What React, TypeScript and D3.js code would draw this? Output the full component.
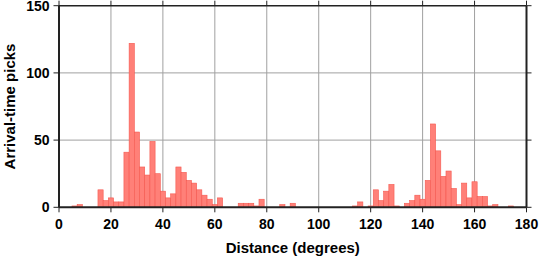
import React from "react";
import * as d3 from "d3";

// Histogram bins: lower edge (degrees), width 2 degrees
const binLower = [5, 7, 15, 17, 19, 21, 23, 25, 27, 29, 31, 33, 35, 37, 39, 41, 43, 45, 47, 49, 51, 53, 55, 57, 59, 61,
  69, 71, 73, 75, 77, 85, 89, 113, 115, 119, 121, 123, 125, 127, 129, 133, 135, 137, 139, 141, 143, 145, 147, 149,
  151, 153, 155, 157, 159, 161, 163, 165, 167, 173];
const binCount = [1, 2, 13, 5, 7, 4, 4, 41, 122, 56, 30, 24, 49, 25, 12, 7, 10, 30, 26, 20, 18, 13, 9, 6, 2, 7,
  3, 3, 3, 1, 6, 2, 3, 1, 4, 1, 13, 5, 12, 17, 1, 3, 5, 9, 6, 20, 62, 42, 23, 27,
  14, 2, 18, 7, 19, 8, 8, 1, 2, 1];
const binWidth = 2;
const xTicks = [0, 20, 40, 60, 80, 100, 120, 140, 160, 180];
const yTicks = [0, 50, 100, 150];
const xTitle = "Distance (degrees)";
const yTitle = "Arrival-time picks";

export default function App() {
  const W = 539, H = 258;
  const x = d3.scaleLinear().domain([0, 180]).range([59, 526.5]);
  const y = d3.scaleLinear().domain([0, 150]).range([207.3, 5.7]);
  const font = "'Liberation Sans', Arial, Helvetica, sans-serif";
  const axisColor = "#222";
  const x0 = x(0), x1 = x(180), y0 = y(0), y1 = y(150);
  return (
    <svg width={W} height={H} style={{ position: "absolute", left: 0, top: 0, background: "#fff" }}>
      {/* grid */}
      {xTicks.slice(1, -1).map((t) => (
        <line key={"gx" + t} x1={x(t)} x2={x(t)} y1={y1} y2={y0} stroke="#a0a0a0" strokeWidth={1} />
      ))}
      {yTicks.slice(1, -1).map((t) => (
        <line key={"gy" + t} x1={x0} x2={x1} y1={y(t)} y2={y(t)} stroke="#a0a0a0" strokeWidth={1} />
      ))}
      {/* bars */}
      {binLower.map((b, i) => (
        <rect
          key={"b" + i}
          x={x(b)}
          y={y(binCount[i])}
          width={x(b + binWidth) - x(b)}
          height={y0 - y(binCount[i])}
          fill="#ff8078"
          stroke="#f5584f"
          strokeWidth={0.6}
        />
      ))}
      {/* frame */}
      <line x1={x0} x2={x1} y1={y1} y2={y1} stroke={axisColor} strokeWidth={1.5} />
      <line x1={x0} x2={x1} y1={y0} y2={y0} stroke={axisColor} strokeWidth={2} />
      <line x1={x0} x2={x0} y1={y1} y2={y0} stroke={axisColor} strokeWidth={2} />
      <line x1={x1} x2={x1} y1={y1} y2={y0} stroke={axisColor} strokeWidth={2} />
      {/* x ticks */}
      {xTicks.map((t) => (
        <g key={"xt" + t}>
          <line x1={x(t)} x2={x(t)} y1={y0} y2={y0 + 5} stroke={axisColor} strokeWidth={1} />
          <line x1={x(t)} x2={x(t)} y1={y1} y2={y1 - 5} stroke={axisColor} strokeWidth={1} />
          <text x={x(t)} y={228.5} textAnchor="middle" fontFamily={font} fontWeight="bold" fontSize={14} fill="#000">
            {t}
          </text>
        </g>
      ))}
      {/* y ticks */}
      {yTicks.map((t) => (
        <g key={"yt" + t}>
          <line x1={x0} x2={x0 - 5.5} y1={y(t)} y2={y(t)} stroke={axisColor} strokeWidth={1} />
          <line x1={x1} x2={x1 + 5} y1={y(t)} y2={y(t)} stroke={axisColor} strokeWidth={1} />
          <text x={49.5} y={y(t) + 5} textAnchor="end" fontFamily={font} fontWeight="bold" fontSize={14} fill="#000">
            {t}
          </text>
        </g>
      ))}
      {/* titles */}
      <text x={(x0 + x1) / 2} y={252.5} textAnchor="middle" fontFamily={font} fontWeight="bold" fontSize={15} fill="#000">
        {xTitle}
      </text>
      <text
        transform={`translate(14.5, ${(y0 + y1) / 2}) rotate(-90)`}
        textAnchor="middle"
        fontFamily={font}
        fontWeight="bold"
        fontSize={15}
        fill="#000"
      >
        {yTitle}
      </text>
    </svg>
  );
}
